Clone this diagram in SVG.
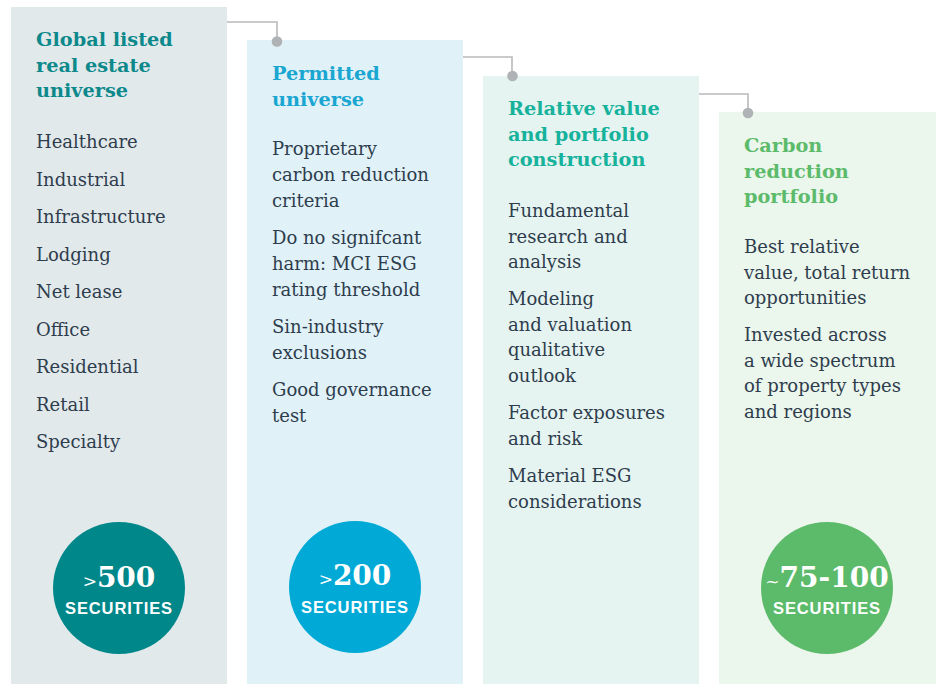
<svg xmlns="http://www.w3.org/2000/svg" width="936" height="684" viewBox="0 0 936 684">
<style>
.h{font-family:"DejaVu Serif","Liberation Serif",serif;font-weight:bold;font-size:19.3px}
.b{font-family:"DejaVu Serif","Liberation Serif",serif;font-size:18px;fill:#2e3d4d}
.num{font-family:"DejaVu Serif","Liberation Serif",serif;font-weight:bold;font-size:28px;fill:#fff}
.sm{font-size:17px;font-weight:normal}
.sec{font-family:"Liberation Sans",Arial,sans-serif;font-weight:bold;font-size:16.5px;letter-spacing:0.9px;fill:#fff}
.con{fill:none;stroke:#b8b9ba;stroke-width:1.6}
.dot{fill:#b0b3b6}
</style>
<rect width="936" height="684" fill="#fff"/>
<g id="global-universe">
<rect x="11" y="7" width="216" height="677" fill="#e2e9eb"/>
<text class="h" fill="#0d898b"><tspan x="36" y="46">Global listed</tspan><tspan x="36" y="72">real estate</tspan><tspan x="36" y="97">universe</tspan></text>
<text class="b"><tspan x="36" y="148">Healthcare</tspan><tspan x="36" y="186">Industrial</tspan><tspan x="36" y="223">Infrastructure</tspan><tspan x="36" y="261">Lodging</tspan><tspan x="36" y="298">Net lease</tspan><tspan x="36" y="336">Office</tspan><tspan x="36" y="373">Residential</tspan><tspan x="36" y="411">Retail</tspan><tspan x="36" y="448">Specialty</tspan></text>
<circle cx="119" cy="588" r="66" fill="#00878a"/>
<text class="num" x="119" y="587" text-anchor="middle"><tspan class="sm">&gt;</tspan>500</text>
<text class="sec" x="119" y="614" text-anchor="middle">SECURITIES</text>
</g>
<g id="permitted-universe">
<rect x="247" y="40" width="216" height="644" fill="#e0f1f8"/>
<text class="h" fill="#19a6d1"><tspan x="272" y="80">Permitted</tspan><tspan x="272" y="106">universe</tspan></text>
<text class="b"><tspan x="272" y="155">Proprietary</tspan><tspan x="272" y="181">carbon reduction</tspan><tspan x="272" y="207">criteria</tspan><tspan x="272" y="244">Do no signifcant</tspan><tspan x="272" y="270">harm: MCI ESG</tspan><tspan x="272" y="296">rating threshold</tspan><tspan x="272" y="333">Sin-industry</tspan><tspan x="272" y="359">exclusions</tspan><tspan x="272" y="396">Good governance</tspan><tspan x="272" y="422">test</tspan></text>
<circle cx="355" cy="587" r="66" fill="#00a9d6"/>
<text class="num" x="355" y="585" text-anchor="middle"><tspan class="sm">&gt;</tspan>200</text>
<text class="sec" x="355" y="613" text-anchor="middle">SECURITIES</text>
</g>
<g id="relative-value">
<rect x="483" y="76" width="216" height="608" fill="#e6f4f1"/>
<text class="h" fill="#17b29c"><tspan x="508" y="115">Relative value</tspan><tspan x="508" y="140.5">and portfolio</tspan><tspan x="508" y="166">construction</tspan></text>
<text class="b"><tspan x="508" y="217">Fundamental</tspan><tspan x="508" y="242.5">research and</tspan><tspan x="508" y="268">analysis</tspan><tspan x="508" y="305">Modeling</tspan><tspan x="508" y="330.5">and valuation</tspan><tspan x="508" y="356">qualitative</tspan><tspan x="508" y="381.5">outlook</tspan><tspan x="508" y="419">Factor exposures</tspan><tspan x="508" y="444.5">and risk</tspan><tspan x="508" y="482">Material ESG</tspan><tspan x="508" y="507.5">considerations</tspan></text>
</g>
<g id="carbon-reduction-portfolio">
<rect x="719" y="112" width="217" height="572" fill="#ebf6ec"/>
<text class="h" fill="#5cbb6a"><tspan x="744" y="152">Carbon</tspan><tspan x="744" y="177.5">reduction</tspan><tspan x="744" y="203">portfolio</tspan></text>
<text class="b"><tspan x="744" y="253">Best relative</tspan><tspan x="744" y="278.5">value, total return</tspan><tspan x="744" y="304">opportunities</tspan><tspan x="744" y="341">Invested across</tspan><tspan x="744" y="366.5">a wide spectrum</tspan><tspan x="744" y="392">of property types</tspan><tspan x="744" y="417.5">and regions</tspan></text>
<circle cx="827" cy="588" r="66" fill="#5cbb6a"/>
<text class="num" x="827" y="587" text-anchor="middle"><tspan class="sm">~</tspan>75-100</text>
<text class="sec" x="827" y="614" text-anchor="middle">SECURITIES</text>
</g>
<g id="connectors">
<path class="con" d="M227 22H277V41"/>
<circle class="dot" cx="277" cy="41.5" r="5.3"/>
<path class="con" d="M463 57H512V76"/>
<circle class="dot" cx="512.5" cy="76" r="5.3"/>
<path class="con" d="M699 94H748V113"/>
<circle class="dot" cx="748" cy="113" r="5.3"/>
</g>
</svg>
